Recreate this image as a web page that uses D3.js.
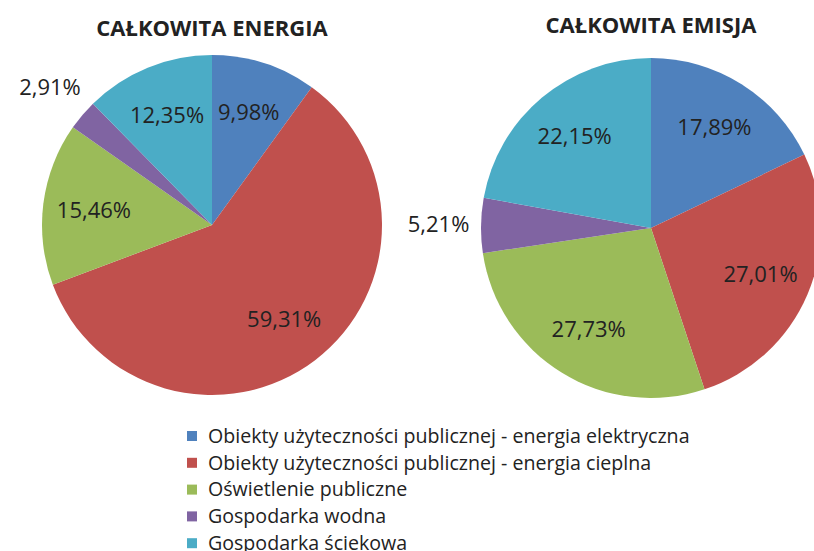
<!DOCTYPE html>
<html>
<head>
<meta charset="utf-8">
<script src="https://cdn.jsdelivr.net/npm/d3@7"></script>
<style>
  body { margin: 0; background: #fff; }
  svg text { font-family: "Open Sans", Lato, sans-serif; fill: #222; }
</style>
</head>
<body>
<div id="chart"></div>
<script>
// categories and values
const categories = [
  "Obiekty użyteczności publicznej - energia elektryczna",
  "Obiekty użyteczności publicznej - energia cieplna",
  "Oświetlenie publiczne",
  "Gospodarka wodna",
  "Gospodarka ściekowa"
];
const energia = [9.98, 59.31, 15.46, 2.91, 12.35];
const emisja = [17.89, 27.01, 27.73, 5.21, 22.15];
const titles = ["CAŁKOWITA ENERGIA", "CAŁKOWITA EMISJA"];
const colors = ["#4F81BD", "#C0504D", "#9BBB59", "#8064A2", "#4BACC6"];

const width = 814, height = 551;
const svg = d3.select("#chart").append("svg")
  .attr("width", width)
  .attr("height", height);

const color = d3.scaleOrdinal().domain(categories).range(colors);
const fmt = v => v.toFixed(2).replace(".", ",") + "%";

const pie = d3.pie().sort(null).value(d => d.value);
const radius = 170;
const arc = d3.arc().innerRadius(0).outerRadius(radius);
const inLabel = d3.arc().innerRadius(radius * 0.7).outerRadius(radius * 0.7);
const outLabel = d3.arc().innerRadius(radius * 1.25).outerRadius(radius * 1.25);

const charts = [
  { title: titles[0], values: energia, cx: 212, cy: 225, ty: 36 },
  { title: titles[1], values: emisja, cx: 651, cy: 228, ty: 33 }
];

charts.forEach(c => {
  const data = categories.map((k, i) => ({ key: k, value: c.values[i] }));
  const g = svg.append("g").attr("transform", `translate(${c.cx},${c.cy})`);

  g.selectAll("path")
    .data(pie(data))
    .enter().append("path")
    .attr("d", arc)
    .attr("fill", d => color(d.data.key));

  g.selectAll("text.lbl")
    .data(pie(data))
    .enter().append("text")
    .attr("class", "lbl")
    .attr("transform", d => {
      const p = d.data.value < 6 ? outLabel.centroid(d) : inLabel.centroid(d);
      return `translate(${p})`;
    })
    .attr("text-anchor", "middle")
    .attr("dy", "0.35em")
    .style("font-size", "22px")
    .text(d => fmt(d.data.value));

  svg.append("text")
    .attr("x", c.cx)
    .attr("y", c.ty)
    .attr("text-anchor", "middle")
    .style("font-size", "22px")
    .style("font-weight", "bold")
    .text(c.title);
});

// legend
const legend = svg.append("g").attr("transform", "translate(187,436)");
const row = legend.selectAll("g")
  .data(categories)
  .enter().append("g")
  .attr("transform", (d, i) => `translate(0,${i * 26.8})`);

row.append("rect")
  .attr("x", 0).attr("y", -5)
  .attr("width", 10).attr("height", 10)
  .attr("fill", d => color(d));

row.append("text")
  .attr("x", 21)
  .attr("dy", "0.35em")
  .style("font-size", "19.6px")
  .text(d => d);
</script>
</body>
</html>
